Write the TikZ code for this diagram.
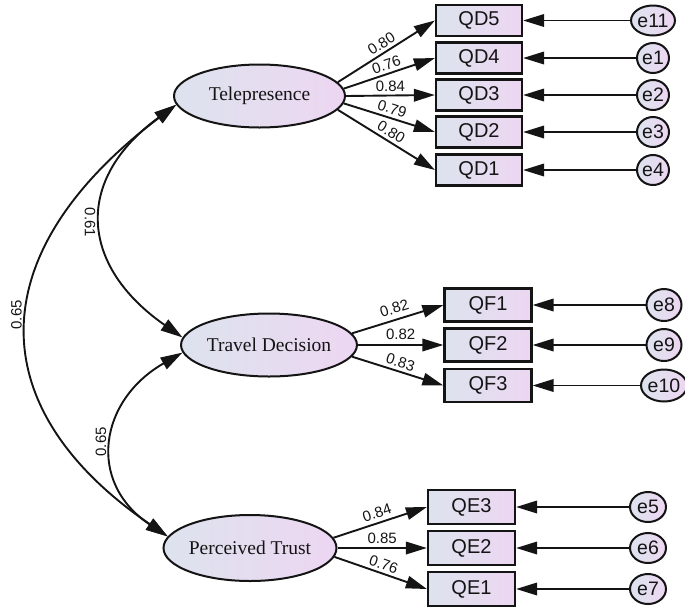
\documentclass[tikz,border=0pt]{standalone}
\usepackage{fontspec}
\setmainfont{Liberation Serif}
\newfontfamily\arialf{Liberation Sans}
\usetikzlibrary{arrows.meta,shapes.geometric}
\definecolor{cl}{RGB}{221,227,238}
\definecolor{cr}{RGB}{237,214,242}
\definecolor{ink}{RGB}{20,20,20}
\begin{document}
\begin{tikzpicture}[x=1pt,y=-1pt,
  latent/.style={ellipse, draw=ink, line width=2pt, left color=cl, right color=cr,
    minimum width=171pt, minimum height=63pt, inner sep=0pt,
    font=\fontsize{19.5}{19.5}\selectfont, text=ink},
  obs/.style={rectangle, draw=ink, line width=2.2pt, left color=cl, right color=cr,
    minimum width=86pt, minimum height=31pt, inner sep=0pt,
    font=\arialf\fontsize{20}{20}\selectfont, text=ink},
  err/.style={ellipse, draw=ink, line width=2pt, left color=cl, right color=cr,
    minimum width=32pt, minimum height=30pt, inner sep=0pt,
    font=\arialf\fontsize{19.5}{19.5}\selectfont, text=ink},
  arr/.style={line width=1.9pt, draw=ink, -{Triangle[length=21pt,width=12.5pt]}},
  dbl/.style={line width=1.9pt, draw=ink, {Triangle[length=22pt,width=13pt]}-{Triangle[length=22pt,width=13pt]}},
  coef/.style={font=\arialf\fontsize{15}{15}\selectfont, sloped, above, inner sep=3pt, pos=0.5, text=ink},
  corr/.style={font=\arialf\fontsize{15}{15}\selectfont, inner sep=6pt, text=ink}
]
\useasboundingbox (0,0) rectangle (685,611);

% latent variables
\node[latent] (tele) at (259.5,96) {Telepresence};
\node[latent] (td) at (269,345) {Travel Decision};
\node[latent, minimum height=66pt, minimum width=173pt] (pt) at (250,548) {Perceived Trust};

% indicators
\node[obs] (qd5) at (479,20.5) {QD5};
\node[obs] (qd4) at (479,58) {QD4};
\node[obs] (qd3) at (479,95) {QD3};
\node[obs] (qd2) at (479,132) {QD2};
\node[obs] (qd1) at (479,170) {QD1};

\node[obs, minimum width=87pt, minimum height=33pt] (qf1) at (488,305) {QF1};
\node[obs, minimum width=87pt, minimum height=33pt] (qf2) at (488,345) {QF2};
\node[obs, minimum width=87pt, minimum height=33pt] (qf3) at (488,385.5) {QF3};

\node[obs, minimum width=87pt, minimum height=34pt] (qe3) at (471.5,507) {QE3};
\node[obs, minimum width=87pt, minimum height=34pt] (qe2) at (471.5,548) {QE2};
\node[obs, minimum width=87pt, minimum height=34pt] (qe1) at (471.5,589) {QE1};

% errors
\node[err] (e11) at (653,20.5) {e11};
\node[err] (e1) at (653,58) {e1};
\node[err] (e2) at (653,95) {e2};
\node[err] (e3) at (653,132) {e3};
\node[err] (e4) at (653,170) {e4};

\node[err, minimum width=35pt, minimum height=32pt] (e8) at (664,305) {e8};
\node[err, minimum width=35pt, minimum height=32pt] (e9) at (664,345) {e9};
\node[err, minimum width=35pt, minimum height=32pt] (e10) at (664,385.5) {e10};

\node[err, minimum width=36pt, minimum height=30pt] (e5) at (648,507) {e5};
\node[err, minimum width=36pt, minimum height=30pt] (e6) at (648,548) {e6};
\node[err, minimum width=36pt, minimum height=30pt] (e7) at (648,589) {e7};

% loadings
\draw[arr] (tele.10) -- (qd5.west) node[coef]{0.80};
\draw[arr] (tele.5) -- (qd4.west) node[coef]{0.76};
\draw[arr] (tele.0) -- (qd3.west) node[coef]{0.84};
\draw[arr] (tele.-5) -- (qd2.west) node[coef]{0.79};
\draw[arr] (tele.-10) -- (qd1.west) node[coef]{0.80};

\draw[arr] (td.8) -- (qf1.west) node[coef, inner sep=5pt]{0.82};
\draw[arr] (td.0) -- (qf2.west) node[coef, inner sep=4pt]{0.82};
\draw[arr] (td.-8) -- (qf3.west) node[coef]{0.83};

\draw[arr] (pt.7) -- (qe3.west) node[coef, inner sep=4pt]{0.84};
\draw[arr] (pt.0) -- (qe2.west) node[coef]{0.85};
\draw[arr] (pt.-6) -- (qe1.west) node[coef]{0.76};

% error arrows
\foreach \e/\q in {e11/qd5,e1/qd4,e2/qd3,e3/qd2,e4/qd1,e8/qf1,e9/qf2,e10/qf3,e5/qe3,e6/qe2,e7/qe1}
  \draw[arr] (\e) -- (\q);

% correlations
\draw[dbl] (pt.172) .. controls (-20,408) and (-20,253) .. (tele.186)
  node[corr, pos=0.53, anchor=south, rotate=90]{0.65};
\draw[dbl] (tele.186) .. controls (73,180) and (80,266) .. (td.175)
  node[corr, pos=0.5, anchor=north, rotate=-90]{0.61};
\draw[dbl] (pt.172) .. controls (86,482) and (99.5,400) .. (td.185)
  node[corr, pos=0.5, anchor=south, rotate=90]{0.65};
\end{tikzpicture}
\end{document}
